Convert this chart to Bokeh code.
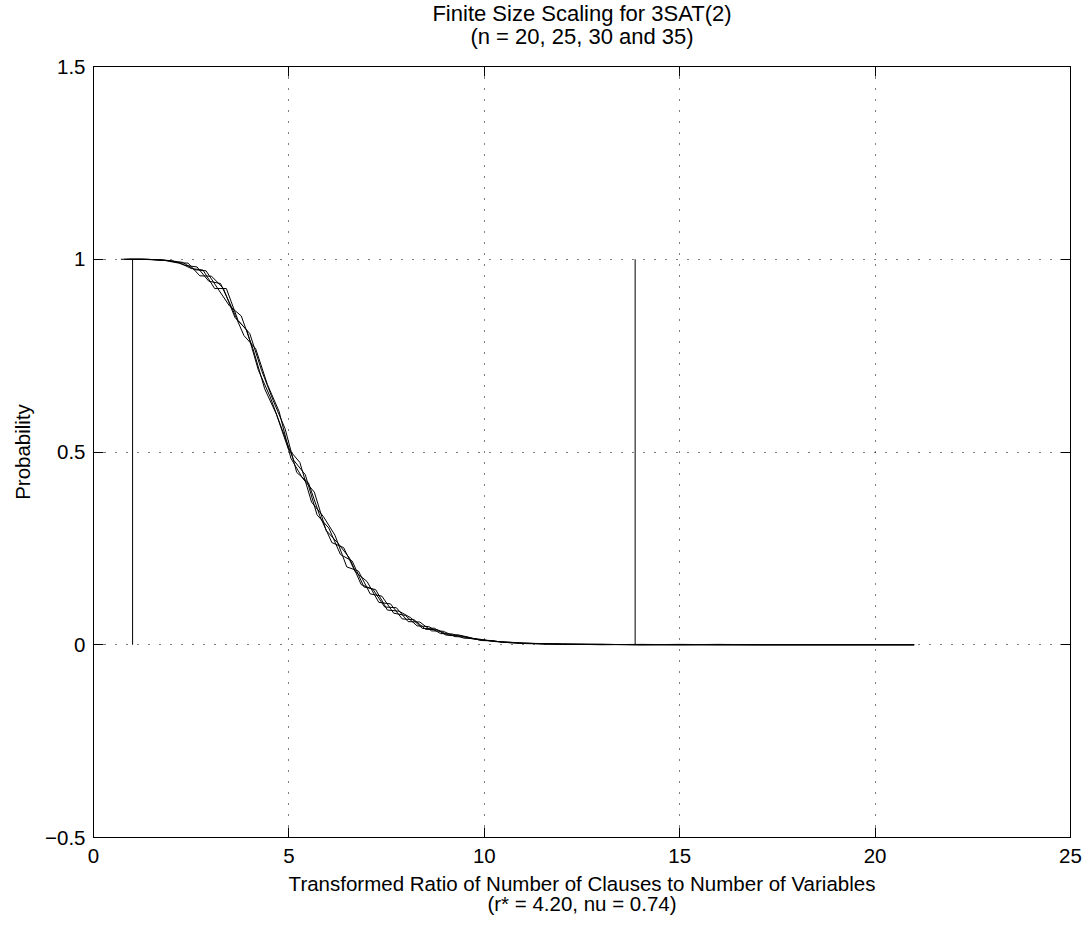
from bokeh.plotting import figure
from bokeh.models import Range1d, LinearAxis, FixedTicker, Title, CustomLabelingPolicy
from bokeh.embed import file_html
from bokeh.resources import INLINE

# ---------------- data ----------------
x_n20 = [0.70, 1.00, 1.30, 1.60, 1.90, 2.20, 2.50, 2.80, 3.10, 3.40, 3.70, 4.00, 4.30, 4.60, 4.90,
         5.20, 5.50, 5.80, 6.10, 6.40, 6.70, 7.00, 7.30, 7.60, 7.90, 8.20, 8.50, 8.80, 9.10, 9.40,
         9.70, 10.00, 10.30, 10.60, 10.90, 11.50, 12.00, 13.00, 14.00, 15.00, 16.00, 17.00, 18.00,
         19.00, 20.00, 21.00]
y_n20 = [1.000, 1.000, 1.000, 0.999, 0.997, 0.991, 0.976, 0.972, 0.924, 0.924, 0.841, 0.807, 0.712,
         0.633, 0.561, 0.447, 0.420, 0.332, 0.265, 0.252, 0.189, 0.164, 0.110, 0.106, 0.067, 0.065,
         0.040, 0.039, 0.024, 0.023, 0.015, 0.012, 0.008, 0.007, 0.004, 0.003, 0.002, 0.001, 0.000,
         0.000, 0.000, 0.000, 0.000, 0.000, 0.000, 0.000]

x_n25 = [0.78, 1.08, 1.38, 1.68, 1.98, 2.28, 2.58, 2.88, 3.18, 3.48, 3.78, 4.08, 4.38, 4.68, 4.98,
         5.28, 5.58, 5.88, 6.18, 6.48, 6.78, 7.08, 7.38, 7.68, 7.98, 8.28, 8.58, 8.88, 9.18, 9.48,
         9.78, 10.08, 10.38, 10.68, 10.98, 11.50, 12.00, 13.00, 14.00, 15.00, 16.00, 17.00, 18.00,
         19.00, 20.00, 21.00]
y_n25 = [1.000, 1.000, 1.000, 0.998, 0.996, 0.992, 0.973, 0.970, 0.924, 0.879, 0.853, 0.768, 0.664,
         0.598, 0.509, 0.473, 0.370, 0.333, 0.284, 0.202, 0.191, 0.132, 0.126, 0.082, 0.076, 0.049,
         0.047, 0.029, 0.028, 0.017, 0.016, 0.011, 0.008, 0.005, 0.004, 0.003, 0.001, 0.001, 0.000,
         0.001, 0.000, 0.000, 0.000, 0.000, 0.000, 0.000]

x_n30 = [0.85, 1.15, 1.45, 1.75, 2.05, 2.35, 2.65, 2.95, 3.25, 3.55, 3.85, 4.15, 4.45, 4.75, 5.05,
         5.35, 5.65, 5.95, 6.25, 6.55, 6.85, 7.15, 7.45, 7.75, 8.05, 8.35, 8.65, 8.95, 9.25, 9.55,
         9.85, 10.15, 10.45, 10.75, 11.05, 11.50, 12.00, 13.00, 14.00, 15.00, 16.00, 17.00, 18.00,
         19.00, 20.00, 21.00]
y_n30 = [1.000, 1.000, 0.999, 0.998, 0.995, 0.984, 0.980, 0.943, 0.937, 0.872, 0.802, 0.768, 0.675,
         0.605, 0.484, 0.432, 0.396, 0.297, 0.264, 0.225, 0.156, 0.144, 0.098, 0.096, 0.060, 0.059,
         0.036, 0.035, 0.021, 0.020, 0.013, 0.011, 0.007, 0.006, 0.003, 0.002, 0.002, 0.000, 0.001,
         0.000, 0.001, 0.000, 0.000, 0.000, 0.000, 0.000]

x_n35 = [0.92, 1.22, 1.52, 1.82, 2.12, 2.42, 2.72, 3.02, 3.32, 3.62, 3.92, 4.22, 4.52, 4.82, 5.12,
         5.42, 5.72, 6.02, 6.32, 6.62, 6.92, 7.22, 7.52, 7.82, 8.12, 8.42, 8.72, 9.02, 9.32, 9.62,
         9.92, 10.22, 10.52, 10.82, 11.12, 11.50, 12.00, 13.00, 14.00, 15.00, 16.00, 17.00, 18.00,
         19.00, 20.00, 21.00]
y_n35 = [1.000, 1.000, 0.999, 0.997, 0.991, 0.990, 0.957, 0.956, 0.925, 0.849, 0.817, 0.712, 0.643,
         0.560, 0.479, 0.441, 0.337, 0.303, 0.234, 0.217, 0.150, 0.143, 0.090, 0.087, 0.070, 0.042,
         0.043, 0.025, 0.026, 0.019, 0.011, 0.010, 0.006, 0.005, 0.004, 0.002, 0.001, 0.001, 0.000,
         0.000, 0.000, 0.000, 0.000, 0.000, 0.000, 0.000]

marker_x = [1.00, 13.86]
marker_y0 = [0.0, 0.0]
marker_y1 = [1.0, 1.0]

x_ticks = [0, 5, 10, 15, 20, 25]
y_ticks = [-0.5, 0.0, 0.5, 1.0, 1.5]
y_tick_labels = ["\u22120.5", "0", "0.5", "1", "1.5"]

title_line1 = "Finite Size Scaling for 3SAT(2)"
title_line2 = "(n = 20, 25, 30 and 35)"
xlabel_line1 = "Transformed Ratio of Number of Clauses to Number of Variables"
xlabel_line2 = "(r* = 4.20, nu = 0.74)"
ylabel = "Probability"

# ---------------- figure ----------------
FONT = "Liberation Sans"
TICK_FS = "20.5px"
LABEL_FS = "20.5px"
TITLE_FS = "22px"

p = figure(width=1084, height=928, output_backend="svg", toolbar_location=None,
           x_range=Range1d(0, 25), y_range=Range1d(-0.5, 1.5), title=None,
           min_border_left=92, min_border_right=14, min_border_top=66, min_border_bottom=91)
p.background_fill_color = "white"
p.border_fill_color = "white"
p.outline_line_color = "black"
p.outline_line_width = 1

def style_axis(ax, ticks, show_labels, standoff=0):
    ax.ticker = FixedTicker(ticks=ticks)
    ax.major_tick_in = 10
    ax.major_tick_out = 0
    ax.minor_tick_line_color = None
    ax.axis_line_color = "black"
    ax.major_tick_line_color = "black"
    ax.major_label_standoff = standoff
    if show_labels:
        ax.major_label_text_font = FONT
        ax.major_label_text_font_size = TICK_FS
        ax.major_label_text_color = "black"
    else:
        ax.major_label_text_font_size = "1px"
        ax.major_label_policy = CustomLabelingPolicy(code="return []")

style_axis(p.xaxis[0], x_ticks, True, 11)
style_axis(p.yaxis[0], y_ticks, True, 8)
p.yaxis[0].major_label_overrides = {t: s for t, s in zip(y_ticks, y_tick_labels)}

top_ax = LinearAxis()
style_axis(top_ax, x_ticks, False, 12)
p.add_layout(top_ax, "above")
right_ax = LinearAxis()
style_axis(right_ax, y_ticks, False, 0)
p.add_layout(right_ax, "right")

p.xgrid.ticker = FixedTicker(ticks=x_ticks)
p.ygrid.ticker = FixedTicker(ticks=y_ticks)
for g in (p.xgrid[0], p.ygrid[0]):
    g.grid_line_color = "black"
    g.grid_line_dash = "1 10"
    g.grid_line_width = 1

def mk_title(text, fs, standoff):
    return Title(text=text, align="center", text_font=FONT, text_font_size=fs,
                 text_font_style="normal", text_color="black", standoff=standoff)

p.add_layout(mk_title(title_line2, TITLE_FS, 4), "above")
p.add_layout(mk_title(title_line1, TITLE_FS, -12.5), "above")
p.add_layout(mk_title(xlabel_line1, LABEL_FS, 8), "below")
p.add_layout(mk_title(xlabel_line2, LABEL_FS, -17), "below")
p.add_layout(mk_title(ylabel, LABEL_FS, 17), "left")

# ---------------- marks ----------------
for xs, ys in ((x_n20, y_n20), (x_n25, y_n25), (x_n30, y_n30), (x_n35, y_n35)):
    p.line(xs, ys, line_color="black", line_width=1)

p.segment(x0=marker_x, y0=marker_y0, x1=marker_x, y1=marker_y1, line_color="black", line_width=1)

open("out.html", "w").write(file_html(p, INLINE))
